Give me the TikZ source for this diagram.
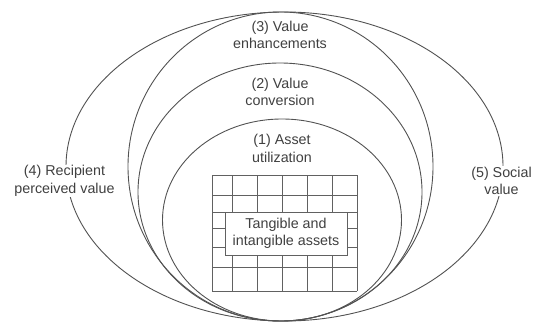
\documentclass[tikz,border=0pt]{standalone}
\usepackage{fontspec}
\setmainfont{Liberation Sans}
\begin{document}
\begin{tikzpicture}[x=1pt,y=-1pt,
  ring/.style={draw=black!68,line width=0.9pt},
  gridline/.style={draw=black!62,line width=0.7pt},
  lbl/.style={align=center,font=\fontsize{14.3}{17.5}\selectfont,text=black!75,inner sep=1pt},
  wlbl/.style={lbl,fill=white},
  assetbox/.style={draw=black!62,line width=0.8pt,fill=white,minimum width=122pt,minimum height=43pt,inner sep=0pt,align=center,font=\fontsize{14.3}{17.5}\selectfont,text=black!75}]
\useasboundingbox (0,0) rectangle (534,323);
% ellipses
\draw[ring] (284.5,166.5) ellipse [x radius=218.5, y radius=154.5];
\draw[ring] (280.5,166.5) ellipse [x radius=152.5, y radius=154.5];
\draw[ring] (280,192) ellipse [x radius=142, y radius=129];
\draw[ring] (282,220) ellipse [x radius=119.5, y radius=101];
% grid
\foreach \gx in {212,232,257,282,307,332,357}
  \draw[gridline] (\gx,175) -- (\gx,291);
\foreach \gy in {175,195,212,228,247,267,291}
  \draw[gridline] (212,\gy) -- (357,\gy);
\node[assetbox] (assets) at (286,233.5) {Tangible and\\intangible assets};
% labels
\node[lbl] (l3) at (280,35) {(3) Value\\enhancements};
\node[lbl] (l2) at (280,92) {(2) Value\\conversion};
\node[lbl] (l1) at (282,148.5) {(1) Asset\\utilization};
\node[wlbl] (l4) at (64.5,181) {(4) Recipient\\perceived value};
\node[wlbl] (l5) at (501.5,181) {(5) Social\\value};
\end{tikzpicture}
\end{document}
